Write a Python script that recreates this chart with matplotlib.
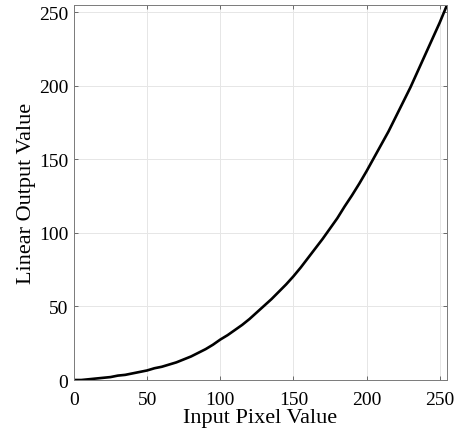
import matplotlib
matplotlib.use("Agg")
import matplotlib.pyplot as plt

# values
input_pixel = [0, 5, 10, 15, 20, 25, 30, 35, 40, 45, 50, 55, 60, 65, 70, 75,
               80, 85, 90, 95, 100, 105, 110, 115, 120, 125, 130, 135, 140,
               145, 150, 155, 160, 165, 170, 175, 180, 185, 190, 195, 200,
               205, 210, 215, 220, 225, 230, 235, 240, 245, 250, 255]
linear_output = [0, 0, 0.5, 1, 1.5, 2, 3, 3.5, 4.5, 5.5, 6.5, 8, 9, 10.5, 12,
                 14, 16, 18.5, 21, 24, 27.5, 30.5, 34, 37.5, 41.5, 46, 50.5,
                 55, 60, 65, 70.5, 76.5, 83, 89.5, 96, 103, 110, 118, 125.5,
                 133.5, 142, 151, 160, 169, 179, 189, 199, 210, 221, 232, 243,
                 255]
ticks = [0, 50, 100, 150, 200, 250]

plt.rcParams['font.family'] = ['Liberation Serif', 'DejaVu Serif']

fig = plt.figure(figsize=(4.54, 4.39), dpi=100, facecolor='w')
ax = fig.add_axes([0.163, 0.1321, 0.8216, 0.8542])

ax.plot(input_pixel, linear_output, color='black', linewidth=1.9)

ax.set_xlim(0, 255)
ax.set_ylim(0, 255)
ax.set_xticks(ticks)
ax.set_yticks(ticks)
ax.grid(True, color='#e6e6e6', linewidth=0.7)
ax.set_axisbelow(True)
ax.tick_params(direction='in', length=3, width=0.6, color='#555555',
               top=True, right=True, labelsize=14)
ax.tick_params(axis='x', pad=8)
ax.tick_params(axis='y', pad=4)
for s in ax.spines.values():
    s.set_color('#7a7a7a')
    s.set_linewidth(0.7)

ax.set_xlabel("Input Pixel Value", fontsize=16, labelpad=0)
ax.set_ylabel("Linear Output Value", fontsize=16, labelpad=2)

plt.savefig("out.png", dpi=100)
